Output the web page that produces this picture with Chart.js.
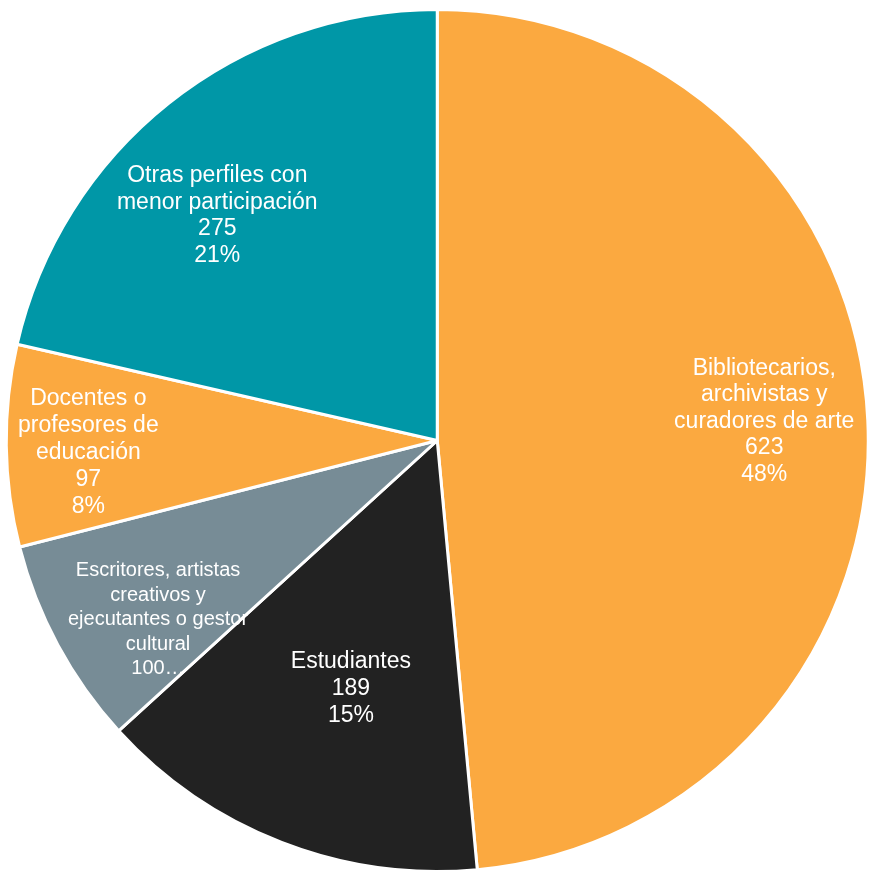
<!DOCTYPE html>
<html>
<head>
<meta charset="utf-8">
<script src="https://cdn.jsdelivr.net/npm/chart.js@4"></script>
<style>
  html, body { margin: 0; padding: 0; background: #fff; overflow: hidden; }
  #wrap { width: 870px; height: 873px; }
</style>
</head>
<body>
<div id="wrap"><canvas id="pieChart"></canvas></div>
<script>
// data
const categories = [
  ["Bibliotecarios,", "archivistas y", "curadores de arte"],
  ["Estudiantes"],
  ["Escritores, artistas", "creativos y", "ejecutantes o gestor", "cultural"],
  ["Docentes o", "profesores de", "educación"],
  ["Otras perfiles con", "menor participación"]
];
const values = [623, 189, 100, 97, 275];
const valueLabels = ["623", "189", "100…", "97", "275"];
const percentLabels = ["48%", "15%", "", "8%", "21%"];

const colors = ["#FBA940", "#222222", "#778C96", "#FBA940", "#0097A7"];

// where each label sits inside its slice (fraction of radius, angle shift in degrees)
const labelPlace = [
  { r: 0.76, shift: -0.7, size: 23, lh: 26.5 },
  { r: 0.61, shift: -2, size: 23, lh: 27 },
  { r: 0.77, shift: -4.4, size: 20, lh: 24.5 },
  { r: 0.81, shift: -1.3, size: 23, lh: 27 },
  { r: 0.73, shift: -5.8, size: 23, lh: 26.5 }
];

const sliceLabels = {
  id: "sliceLabels",
  afterDatasetsDraw(chart) {
    const ctx = chart.ctx;
    const meta = chart.getDatasetMeta(0);
    meta.data.forEach((arc, i) => {
      const p = labelPlace[i];
      const mid = (arc.startAngle + arc.endAngle) / 2 + p.shift * Math.PI / 180;
      const x = arc.x + Math.cos(mid) * arc.outerRadius * p.r;
      const y = arc.y + Math.sin(mid) * arc.outerRadius * p.r;
      const lines = categories[i].concat([valueLabels[i]]);
      if (percentLabels[i]) lines.push(percentLabels[i]);
      ctx.save();
      ctx.fillStyle = "#ffffff";
      ctx.font = p.size + "px 'Liberation Sans', Arial, sans-serif";
      ctx.textAlign = "center";
      ctx.textBaseline = "middle";
      lines.forEach((t, k) => {
        ctx.fillText(t, x, y + (k - (lines.length - 1) / 2) * p.lh);
      });
      ctx.restore();
    });
  }
};

new Chart(document.getElementById("pieChart"), {
  type: "pie",
  data: {
    labels: categories.map(c => c.join(" ")),
    datasets: [{
      data: values,
      backgroundColor: colors,
      borderColor: "#ffffff",
      borderWidth: 3
    }]
  },
  options: {
    responsive: true,
    maintainAspectRatio: false,
    animation: false,
    layout: { padding: { left: 4.5, top: 8, right: -2.5, bottom: -3 } },
    plugins: {
      legend: { display: false },
      tooltip: { enabled: false }
    }
  },
  plugins: [sliceLabels]
});
</script>
</body>
</html>
